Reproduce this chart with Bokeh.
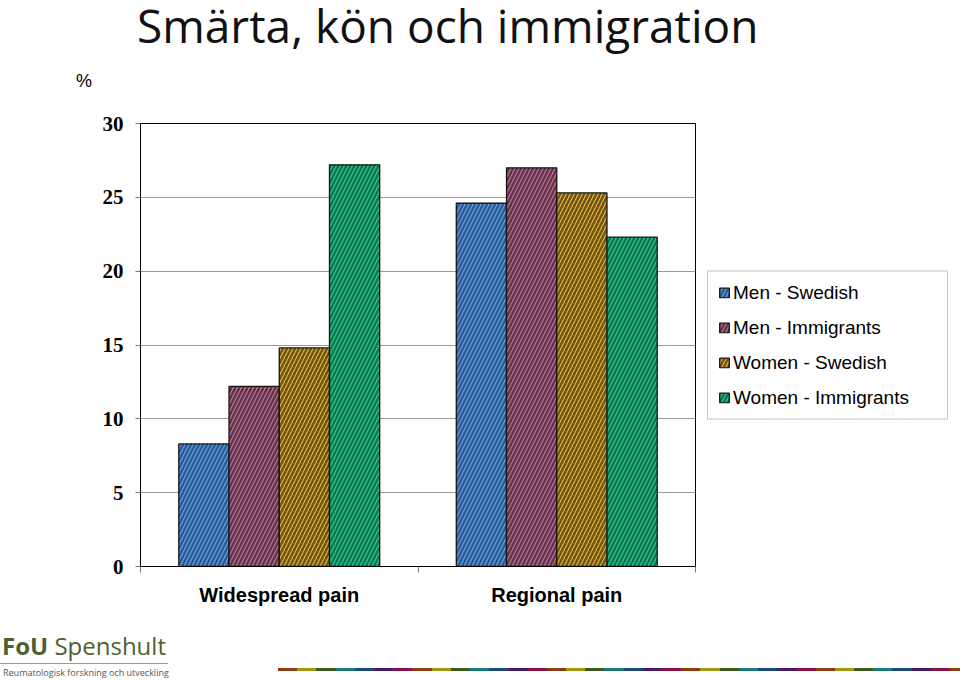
from bokeh.plotting import figure
from bokeh.models import (ColumnDataSource, Range1d, LinearAxis, FixedTicker, Legend,
                          LegendItem, Div)
from bokeh.layouts import column
from bokeh.embed import file_html
from bokeh.resources import INLINE

# ---------------- data ----------------
categories = ["Widespread pain", "Regional pain"]
series_names = ["Men - Swedish", "Men - Immigrants", "Women - Swedish", "Women - Immigrants"]
men_swedish = [8.3, 24.6]
men_immigrants = [12.2, 27.0]
women_swedish = [14.8, 25.3]
women_immigrants = [27.2, 22.3]
y_ticks = [0, 5, 10, 15, 20, 25, 30]
title_text = "Smärta, kön och immigration"
unit_text = "%"
footer_brand = ("FoU", "Spenshult")
footer_sub = "Reumatologisk forskning och utveckling"

series_values = [men_swedish, men_immigrants, women_swedish, women_immigrants]
series_colors = ["#5e9fe0", "#c07090", "#e3b232", "#22d070"]
hatch_colors = ["#0a2c5c", "#1a0c1e", "#1c1408", "#063050"]

W = 960
H_HEAD, H_FOOT = 100, 55
FL, FT, FW, FH = 140, 123, 555, 443          # frame left/top/width/height in page px
H_MAIN = 630 - H_HEAD                          # main figure spans page y 100..630
n_cat = len(categories)
centers = [i + 0.5 for i in range(n_cat)]

# ---------------- header (title + unit) ----------------
header_html = f"""
<div style="position:relative;width:{W}px;height:{H_HEAD}px;">
  <div style="position:absolute;left:137px;top:0px;font-family:'Open Sans',sans-serif;font-size:46px;
              line-height:1.1;color:#111111;white-space:nowrap;">{title_text}</div>
  <div style="position:absolute;left:76px;top:72px;font-family:'Liberation Sans',sans-serif;font-size:18px;
              line-height:1;color:#000000;white-space:nowrap;">{unit_text}</div>
</div>
"""
head = Div(text=header_html, width=W, height=H_HEAD, margin=0)

# ---------------- main chart ----------------
p = figure(x_range=Range1d(0, n_cat), y_range=Range1d(0, 30),
           frame_width=FW, frame_height=FH,
           output_backend="svg", toolbar_location=None,
           x_axis_location=None, y_axis_location=None,
           min_border_left=FL, min_border_right=W - FL - FW, min_border_top=FT - H_HEAD,
           min_border_bottom=H_MAIN - (FT - H_HEAD) - FH)
p.title.text = ""
p.title.standoff = 0
p.background_fill_color = "white"
p.border_fill_color = "white"
p.outline_line_color = "black"
p.outline_line_width = 1
p.xgrid.visible = False
p.ygrid.grid_line_color = "#9a9a9a"
p.ygrid.grid_line_width = 1
p.ygrid.ticker = FixedTicker(ticks=y_ticks)

# y axis
yax = LinearAxis(ticker=FixedTicker(ticks=y_ticks))
yax.axis_line_color = "black"
yax.major_tick_out = 5
yax.major_tick_in = 0
yax.major_tick_line_color = "#777777"
yax.minor_tick_line_color = None
yax.major_label_text_font = "Liberation Serif"
yax.major_label_text_font_style = "bold"
yax.major_label_text_font_size = "21px"
yax.major_label_text_color = "black"
yax.major_label_standoff = 12
p.add_layout(yax, "left")

# x axes: boundary ticks + category labels
tax = LinearAxis(ticker=FixedTicker(ticks=list(range(n_cat + 1))),
                 major_label_overrides={i: " " for i in range(n_cat + 1)})
tax.axis_line_color = "black"
tax.major_tick_out = 6
tax.major_tick_in = 0
tax.major_tick_line_color = "#777777"
tax.minor_tick_line_color = None
tax.major_label_text_font_size = "2px"
tax.major_label_standoff = 0
p.add_layout(tax, "below")

cax = LinearAxis(ticker=FixedTicker(ticks=centers),
                 major_label_overrides={c: name for c, name in zip(centers, categories)})
cax.axis_line_color = None
cax.major_tick_line_color = None
cax.minor_tick_line_color = None
cax.major_label_text_font = "Liberation Sans"
cax.major_label_text_font_style = "bold"
cax.major_label_text_font_size = "20px"
cax.major_label_text_color = "black"
cax.major_label_standoff = 0
p.add_layout(cax, "below")

bar_w = 0.181
items = []
for j, (name, col, hcol, vals) in enumerate(zip(series_names, series_colors, hatch_colors,
                                                 series_values)):
    off = (j - 1.5) * bar_w
    src = ColumnDataSource(dict(x=[c + off for c in centers], top=vals))
    r = p.vbar(x="x", top="top", width=bar_w, source=src,
               fill_color=col, line_color="#151515", line_width=1.3,
               hatch_pattern="/", hatch_color=hcol, hatch_alpha=0.6,
               hatch_weight=2.4, hatch_scale=8)
    items.append(LegendItem(label=name, renderers=[r]))

legend = Legend(items=items, location="center_left")
legend.margin = 12
legend.padding = 10
legend.spacing = 13
legend.label_height = 20
legend.label_width = 204
legend.glyph_height = 12
legend.glyph_width = 12
legend.label_standoff = 3
legend.label_text_font = "Liberation Sans"
legend.label_text_font_size = "19px"
legend.label_text_color = "black"
legend.border_line_color = "#8a8a8a"
legend.border_line_width = 1
legend.background_fill_color = "white"
legend.background_fill_alpha = 1
p.add_layout(legend, "right")

# ---------------- footer (decoration) ----------------
dash_colors = ["#8b3a12", "#a09a12", "#3c5a1a", "#1a7a7a", "#1a4a7a", "#4a1a6a", "#8a1048"]
seg = 19.2
stops = []
for k, c in enumerate(dash_colors):
    stops.append("%s %.1fpx %.1fpx" % (c, k * seg, (k + 1) * seg))
gradient = "repeating-linear-gradient(90deg, %s)" % ", ".join(stops)

footer_html = f"""
<div style="position:relative;width:{W}px;height:{H_FOOT}px;font-family:'Open Sans',sans-serif;">
  <div style="position:absolute;left:2px;top:4px;font-size:24px;line-height:1;color:#4f6030;white-space:nowrap;">
    <b>{footer_brand[0]}</b> {footer_brand[1]}</div>
  <div style="position:absolute;left:0px;top:33px;width:168px;height:1px;background:#9a9a9a;"></div>
  <div style="position:absolute;left:3px;top:38px;font-size:9px;line-height:1;color:#555555;white-space:nowrap;">
    {footer_sub}</div>
  <div style="position:absolute;left:278px;top:37.5px;width:{W - 278}px;height:3.5px;background:{gradient};"></div>
</div>
"""
foot = Div(text=footer_html, width=W, height=H_FOOT, margin=0)

layout = column(head, p, foot, spacing=0)
open("out.html", "w").write(file_html(layout, INLINE))
